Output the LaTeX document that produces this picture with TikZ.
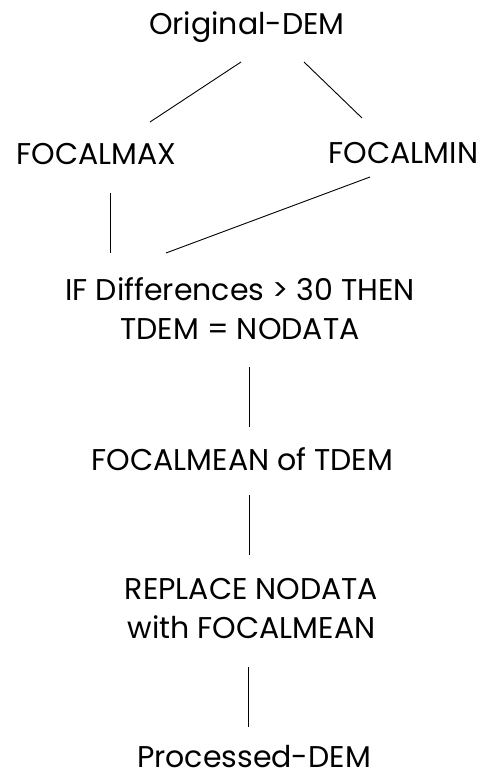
\documentclass[tikz,border=0pt]{standalone}
\usepackage{fontspec}
\setmainfont{Poppins}
\usepackage{tikz}

\tikzset{
  step label/.style={anchor=base, inner sep=0pt, align=center,
                     font=\fontsize{30}{39}\selectfont},
  link/.style={line width=0.9pt}
}

\begin{document}
\begin{tikzpicture}[x=1pt, y=-1pt]
    \useasboundingbox (0, 0) rectangle (490, 776);
    % single-line labels sit on their baseline, two-line ones on the last baseline
    \node[step label] (orig) at (247, 35) {Original-DEM};
    \node[step label] (fmax) at (96.5, 164) {FOCALMAX};
    \node[step label] (fmin) at (403.5, 163) {FOCALMIN};
    \node[step label] (cond) at (240, 339) {IF Differences > 30 THEN\\TDEM = NODATA};
    \node[step label] (fmean) at (242.5, 470) {FOCALMEAN of TDEM};
    \node[step label] (repl) at (251.5, 638) {REPLACE NODATA\\with FOCALMEAN};
    \node[step label] (proc) at (254, 767) {Processed-DEM};
    \draw[link] ([shift={(-6, 27)}]orig.base) -- ([shift={(53.5, -42)}]fmax.base);
    \draw[link] ([shift={(57, 27)}]orig.base) -- ([shift={(-41.5, -45)}]fmin.base);
    \draw[link] ([shift={(13.5, 29)}]fmax.base) -- ([shift={(-130, -86)}]cond.base);
    \draw[link] ([shift={(-33.5, 14)}]fmin.base) -- ([shift={(-74, -86)}]cond.base);
    \draw[link] ([shift={(9, 28)}]cond.base) -- ([shift={(6.5, -43)}]fmean.base);
    \draw[link] ([shift={(6.5, 25)}]fmean.base) -- ([shift={(-2.5, -83)}]repl.base);
    \draw[link] ([shift={(-3.5, 29)}]repl.base) -- ([shift={(-6, -40)}]proc.base);
\end{tikzpicture}
\end{document}
